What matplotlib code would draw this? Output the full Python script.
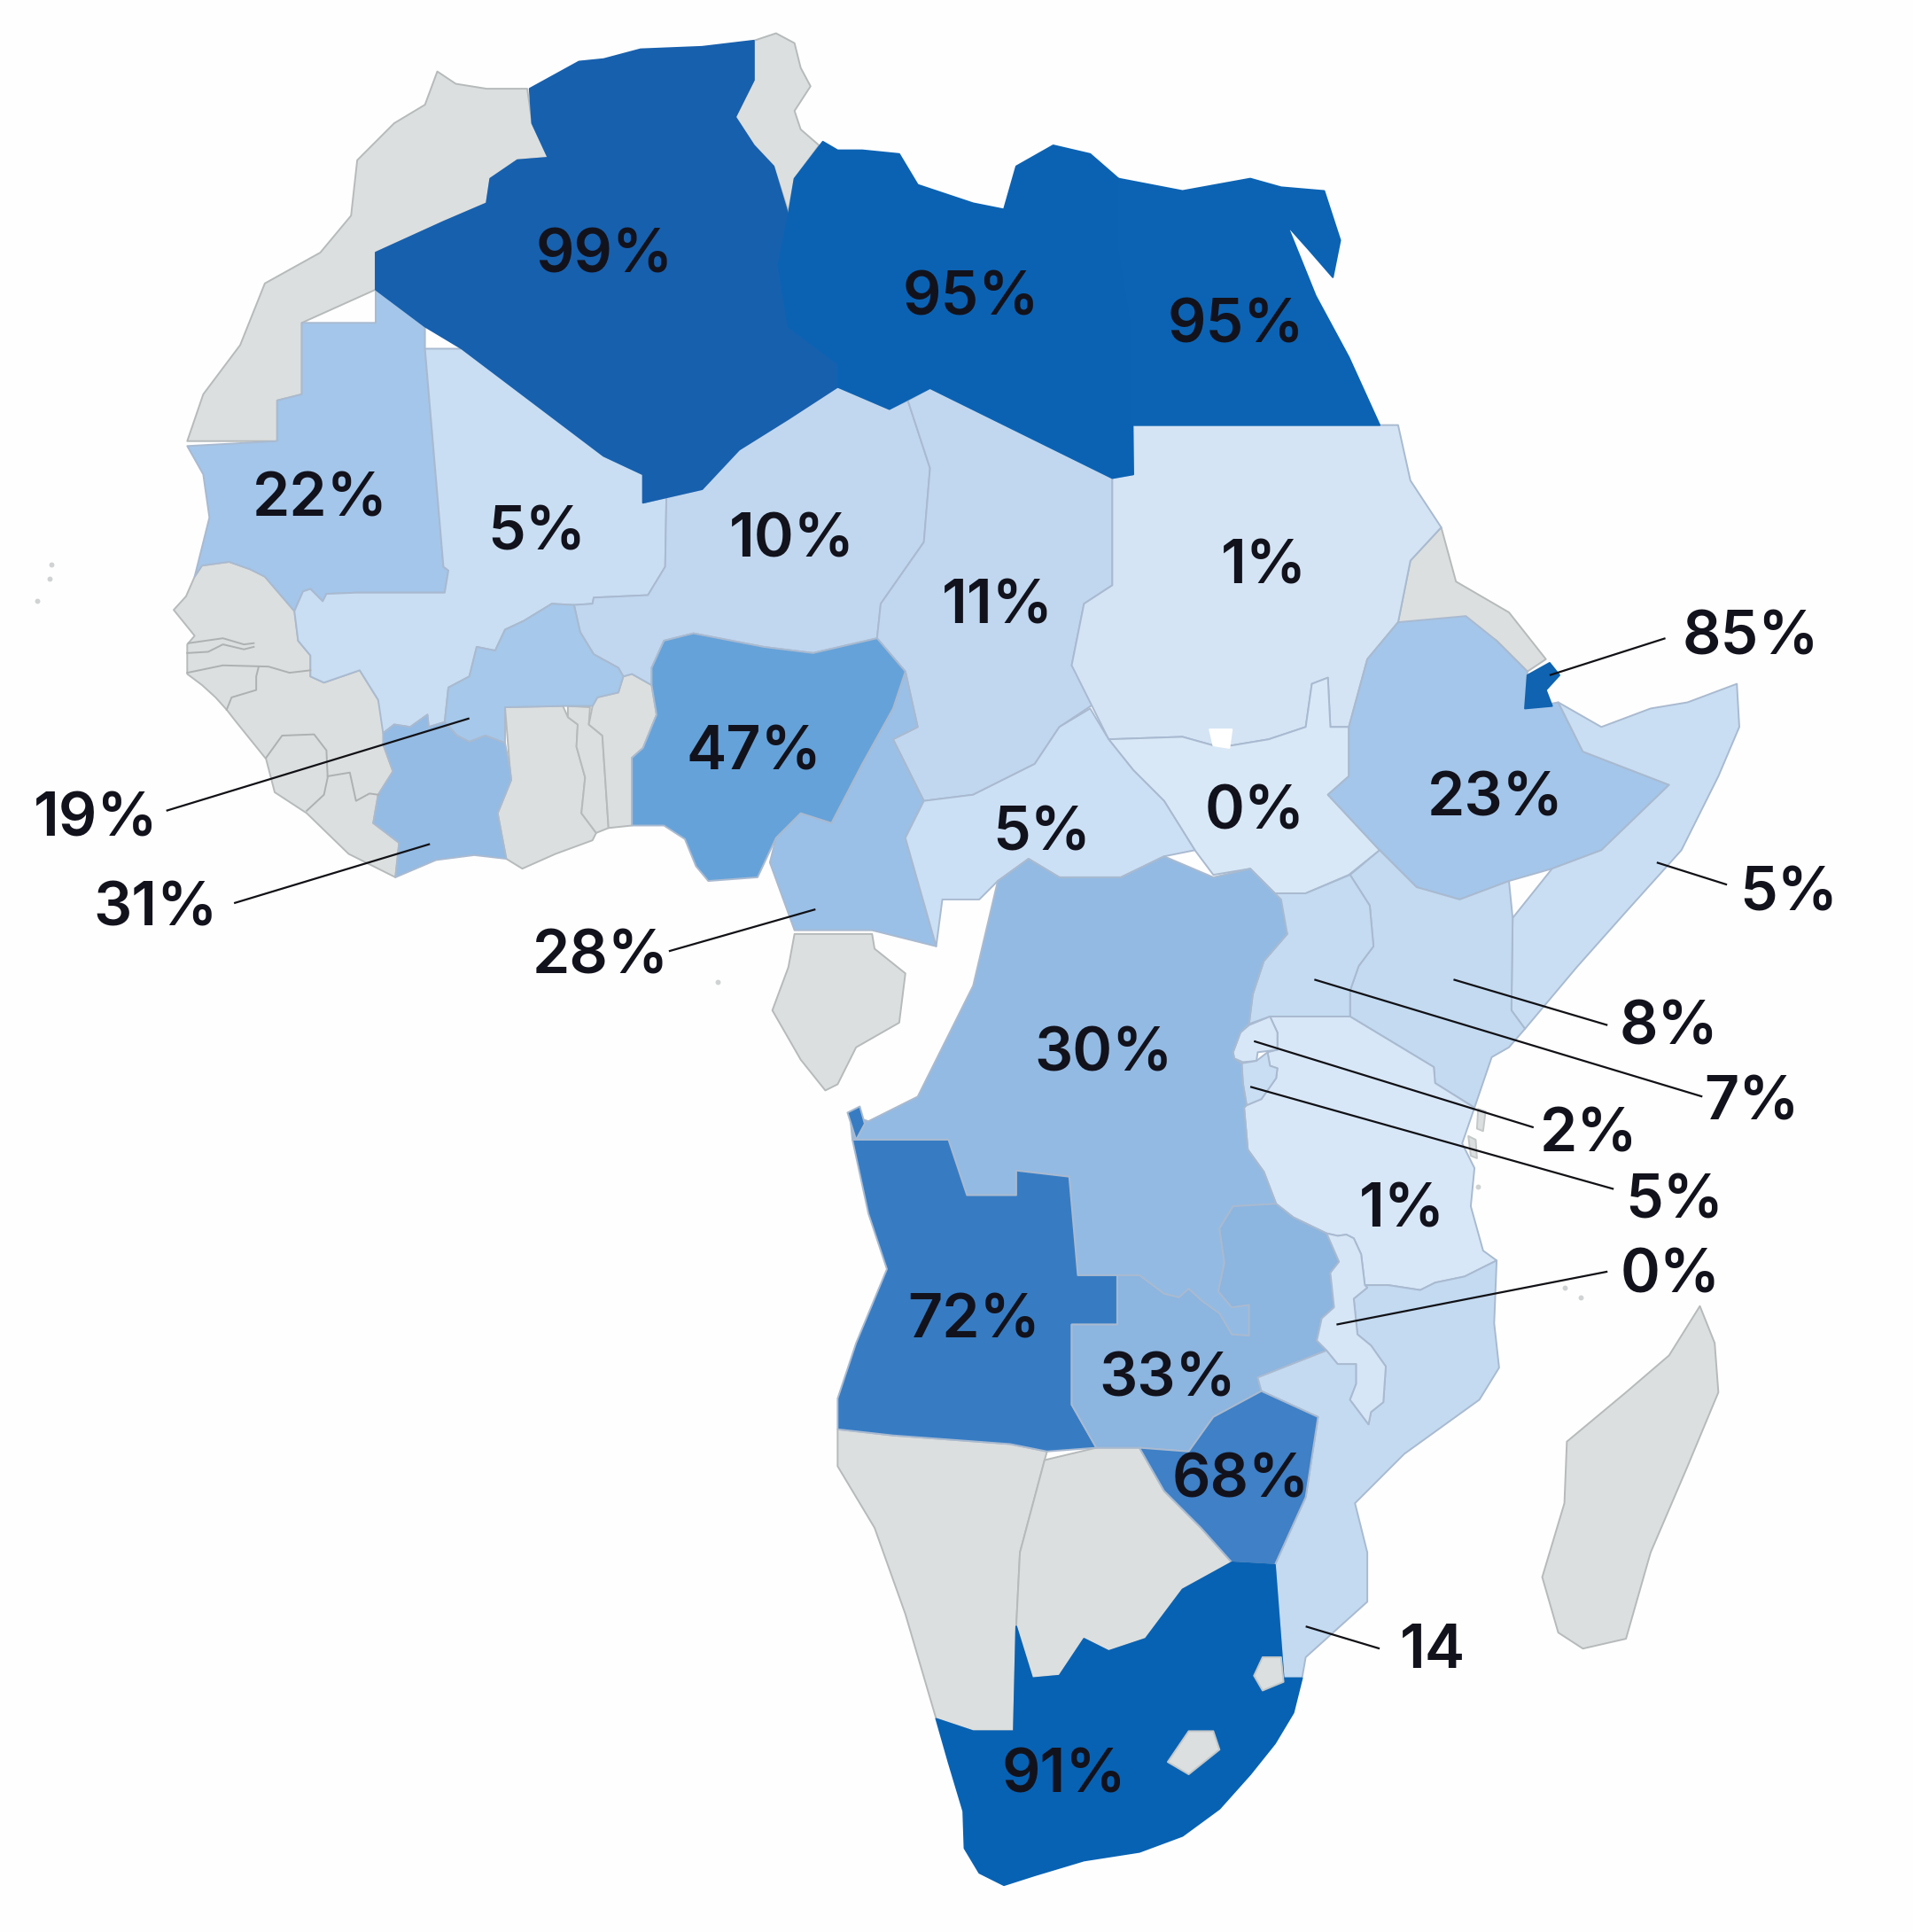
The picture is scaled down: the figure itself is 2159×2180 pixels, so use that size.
import matplotlib.pyplot as plt
from matplotlib.patches import Polygon

# outlines, in pixels of the 1553x1568 view
morocco = [(355,58),(370,68),(395,72),(428,72),(432,100),(445,128),(420,130),(398,145),(395,165),(360,180),(305,205),(305,235),(245,262),(245,320),(225,325),(225,358),(152,358),(165,320),(195,280),(215,230),(260,205),(285,175),(290,130),(320,100),(345,85)]
algeria = [(430,72),(470,50),(490,48),(520,40),(570,38),(612,33),(612,65),(597,95),(612,118),(628,135),(640,175),(632,215),(640,265),(680,295),(680,314),(640,340),(600,365),(570,397),(522,408),(522,385),(490,370),(375,283),(345,265),(305,235),(305,205),(360,180),(395,165),(398,145),(420,130),(445,128),(432,100)]
tunisia = [(612,33),(630,27),(645,35),(650,55),(658,70),(645,90),(650,105),(665,118),(645,145),(640,172),(628,135),(612,118),(597,95),(612,65)]
libya = [(668,115),(680,122),(700,122),(730,125),(745,150),(790,165),(815,170),(825,135),(855,118),(885,125),(908,145),(908,200),(918,260),(920,385),(903,388),(755,315),(722,332),(680,314),(680,295),(640,265),(632,215),(640,175),(645,145)]
egypt = [(908,145),(960,155),(1015,145),(1040,152),(1075,155),(1088,195),(1082,225),(1062,202),(1045,183),(1068,240),(1095,290),(1120,345),(918,345),(918,260),(908,200)]
mauritania = [(245,262),(305,262),(305,235),(345,265),(345,283),(360,460),(364,463),(361,481),(289,481),(265,482),(262,488),(252,478),(246,480),(239,496),(215,468),(203,462),(186,456),(164,459),(158,468),(170,420),(165,385),(152,362),(225,358),(225,325),(245,320)]
mali = [(345,283),(375,283),(490,370),(522,385),(522,408),(541,403),(540,460),(526,483),(482,485),(481,490),(466,491),(448,490),(425,504),(410,511),(402,528),(387,525),(381,549),(364,558),(361,586),(348,590),(347,580),(333,590),(320,588),(311,595),(307,568),(292,544),(263,554),(252,549),(252,532),(242,520),(239,496),(246,480),(252,478),(262,488),(265,482),(289,481),(361,481),(364,463),(360,460)]
niger = [(522,408),(570,397),(600,365),(640,340),(680,314),(722,332),(737,325),(755,380),(750,440),(715,490),(712,518),(660,530),(620,525),(563,514),(539,520),(529,542),(529,556),(513,547),(506,549),(502,542),(482,531),(471,513),(466,491),(481,490),(482,485),(526,483),(540,460),(541,403)]
chad = [(737,325),(755,315),(903,388),(903,475),(880,490),(870,540),(890,570),(860,590),(840,620),(790,645),(750,650),(725,600),(745,590),(735,545),(712,518),(715,490),(750,440),(755,380)]
sudan = [(903,345),(1135,345),(1145,390),(1170,428),(1145,455),(1135,505),(1110,535),(1095,590),(1080,590),(1078,550),(1065,555),(1060,590),(1030,600),(1000,605),(985,605),(960,598),(900,600),(885,570),(870,540),(880,490),(903,475),(903,388),(920,385),(920,345)]
south_sudan = [(900,600),(960,598),(985,605),(1000,605),(1030,600),(1060,590),(1065,555),(1078,550),(1080,590),(1095,590),(1095,630),(1078,645),(1120,690),(1095,710),(1060,725),(1035,725),(1015,705),(985,710),(970,690),(945,650),(920,625)]
abyei = [(982,592),(1000,592),(998,607),(985,605)]
eritrea = [(1145,455),(1170,428),(1182,472),(1225,497),(1255,535),(1240,545),(1215,520),(1190,505),(1135,505)]
ethiopia = [(1135,505),(1190,500),(1215,520),(1240,545),(1238,575),(1265,570),(1285,610),(1355,637),(1300,690),(1260,705),(1225,715),(1185,730),(1150,720),(1120,690),(1078,645),(1095,630),(1095,590),(1110,535)]
djibouti = [(1240,548),(1258,538),(1266,548),(1255,560),(1260,573),(1238,575)]
somalia = [(1265,570),(1300,590),(1340,575),(1370,570),(1410,555),(1412,590),(1395,630),(1365,690),(1320,740),(1280,785),(1238,835),(1227,820),(1228,745),(1260,705),(1300,690),(1355,637),(1285,610)]
kenya = [(1096,710),(1120,690),(1150,720),(1185,730),(1225,715),(1228,745),(1227,820),(1238,835),(1225,850),(1211,858),(1197,899),(1165,879),(1164,866),(1096,825),(1096,804),(1103,784),(1115,768),(1112,735)]
uganda = [(1035,725),(1060,725),(1096,710),(1112,735),(1115,768),(1103,784),(1096,804),(1096,825),(1031,825),(1014,831),(1017,807),(1026,780),(1045,758)]
rwanda = [(1014,832),(1031,825),(1037,838),(1037,852),(1021,854),(1020,861),(1009,862),(1002,859),(1001,854),(1007,838)]
burundi = [(1008,863),(1020,861),(1029,854),(1031,865),(1037,867),(1036,875),(1024,892),(1012,897),(1009,879)]
tanzania = [(1031,825),(1096,825),(1164,866),(1165,879),(1197,899),(1187,928),(1197,948),(1194,979),(1204,1015),(1215,1023),(1189,1036),(1165,1041),(1153,1047),(1127,1043),(1108,1043),(1105,1018),(1099,1005),(1093,1002),(1086,1003),(1077,1001),(1050,988),(1036,977),(1026,951),(1013,933),(1010,899),(1012,897),(1024,892),(1036,875),(1037,867),(1031,865),(1029,854),(1037,852),(1037,838)]
drc = [(835,697),(860,712),(910,712),(945,695),(985,712),(1015,705),(1040,730),(1045,758),(1026,780),(1017,807),(1014,831),(1007,838),(1001,854),(1002,859),(1008,863),(1009,879),(1012,897),(1010,899),(1013,933),(1026,951),(1036,977),(1001,979),(990,997),(994,1025),(989,1048),(1000,1061),(1014,1059),(1014,1084),(1000,1083),(990,1066),(976,1056),(965,1046),(957,1053),(945,1050),(925,1035),(875,1035),(868,955),(825,950),(825,970),(785,970),(770,925),(692,925),(690,905),(705,910),(745,890),(765,850),(790,800),(810,715)]
cabinda = [(688,903),(698,898),(702,912),(695,925)]
angola = [(692,925),(770,925),(785,970),(825,970),(825,950),(868,955),(875,1035),(907,1035),(907,1075),(870,1075),(870,1140),(890,1175),(850,1178),(820,1172),(725,1165),(680,1160),(680,1135),(695,1090),(720,1030),(705,985)]
zambia = [(870,1075),(907,1075),(907,1035),(925,1035),(945,1050),(957,1053),(965,1046),(976,1056),(990,1066),(1000,1083),(1014,1084),(1014,1059),(1000,1061),(989,1048),(994,1025),(990,997),(1001,979),(1036,977),(1050,988),(1077,1001),(1087,1024),(1080,1033),(1083,1061),(1073,1070),(1069,1088),(1077,1096),(1021,1118),(1024,1129),(985,1150),(965,1178),(925,1175),(890,1175),(870,1140)]
malawi = [(1077,1001),(1086,1003),(1093,1002),(1099,1005),(1105,1018),(1108,1043),(1110,1045),(1099,1054),(1102,1083),(1113,1092),(1125,1109),(1123,1138),(1113,1146),(1111,1156),(1096,1136),(1101,1123),(1101,1107),(1086,1107),(1077,1096),(1069,1088),(1073,1070),(1083,1061),(1080,1033),(1087,1024)]
mozambique = [(1108,1043),(1127,1043),(1153,1047),(1165,1041),(1189,1036),(1215,1023),(1213,1074),(1217,1110),(1201,1136),(1140,1180),(1100,1220),(1110,1260),(1110,1300),(1060,1345),(1057,1362),(1042,1362),(1035,1270),(1060,1215),(1070,1150),(1024,1129),(1021,1118),(1077,1096),(1086,1107),(1101,1107),(1101,1123),(1096,1136),(1111,1156),(1113,1146),(1123,1138),(1125,1109),(1113,1092),(1102,1083),(1099,1054),(1110,1045)]
zimbabwe = [(925,1175),(965,1178),(985,1150),(1024,1129),(1070,1150),(1060,1215),(1035,1270),(1000,1268),(975,1240),(945,1210)]
namibia = [(680,1160),(725,1165),(820,1172),(850,1178),(848,1185),(828,1260),(825,1320),(823,1405),(790,1405),(760,1395),(735,1310),(710,1240),(680,1190)]
botswana = [(848,1185),(890,1175),(925,1175),(945,1210),(975,1240),(1000,1268),(960,1290),(930,1330),(900,1340),(880,1330),(860,1360),(838,1362),(825,1320),(828,1260)]
south_africa = [(825,1320),(838,1362),(860,1360),(880,1330),(900,1340),(930,1330),(960,1290),(1000,1268),(1035,1270),(1042,1362),(1057,1362),(1050,1390),(1035,1415),(1015,1440),(990,1468),(960,1490),(925,1503),(880,1510),(840,1522),(815,1530),(795,1520),(783,1500),(782,1470),(770,1430),(760,1395),(790,1405),(823,1405)]
lesotho = [(965,1405),(985,1405),(990,1420),(965,1440),(948,1430)]
eswatini = [(1025,1345),(1040,1345),(1042,1365),(1025,1372),(1018,1360)]
madagascar = [(1380,1060),(1392,1090),(1395,1130),(1370,1190),(1340,1260),(1320,1330),(1285,1338),(1265,1325),(1252,1280),(1270,1220),(1272,1170),(1320,1130),(1355,1100)]
guinea_block = [(158,468),(164,459),(186,456),(203,462),(215,468),(239,496),(242,520),(252,532),(252,549),(263,554),(292,544),(307,568),(314,590),(311,604),(319,626),(307,645),(303,668),(324,684),(321,712),(283,693),(249,660),(223,643),(216,616),(191,585),(184,576),(175,566),(164,556),(152,547),(152,523),(158,516),(141,495),(151,484)]
ghana = [(410,574),(457,573),(461,582),(469,588),(468,606),(475,631),(472,660),(484,676),(481,682),(451,693),(424,705),(411,697),(404,660),(415,633),(414,624)]
togo = [(461,573),(479,574),(478,588),(489,597),(494,672),(484,676),(472,660),(475,631),(468,606),(469,588),(461,582)]
benin = [(481,573),(485,566),(502,562),(506,549),(513,547),(529,556),(533,580),(522,607),(513,615),(513,670),(494,672),(489,597),(478,588)]
burkina = [(466,491),(448,490),(425,504),(410,511),(402,528),(387,525),(381,549),(364,558),(361,586),(371,597),(381,602),(394,597),(410,603),(410,574),(457,573),(481,573),(485,566),(502,562),(506,549),(502,542),(482,531),(471,513)]
ivory_coast = [(311,595),(320,588),(333,590),(347,580),(348,590),(361,586),(371,597),(381,602),(394,597),(410,603),(414,624),(415,633),(404,660),(411,697),(385,694),(354,698),(321,712),(324,684),(303,668),(307,645),(319,626),(311,604)]
nigeria = [(539,520),(563,514),(620,525),(660,530),(712,518),(735,545),(725,575),(700,620),(675,668),(650,660),(630,680),(615,712),(575,715),(565,703),(556,681),(539,670),(513,670),(513,615),(522,607),(533,580),(529,556),(529,542)]
cameroon = [(725,575),(735,545),(745,590),(725,600),(750,650),(735,680),(760,768),(708,755),(645,755),(625,700),(630,680),(650,660),(675,668),(700,620)]
car = [(750,650),(790,645),(840,620),(860,590),(885,575),(900,600),(920,625),(945,650),(970,690),(945,695),(910,712),(860,712),(835,697),(810,715),(795,730),(765,730),(760,768),(735,680)]
gabon_congo = [(645,758),(708,758),(710,770),(735,790),(730,830),(695,850),(680,880),(670,885),(650,860),(627,820),(640,785)]
pemba = [(1200,900),(1206,902),(1204,918),(1199,916)]
zanzibar = [(1192,922),(1198,925),(1199,940),(1194,938)]

# border lines inside the grey west african block
gambia_top = [(153,522),(181,518),(198,523),(206,522)]
gambia_low = [(206,525),(198,527),(181,523),(169,529),(152,530)]
senegal_south = [(152,546),(181,540),(218,541),(235,546),(252,544)]
bissau_east = [(210,541),(208,549),(208,560),(188,566),(184,576)]
sierra_leone = [(216,615),(229,597),(255,596),(265,609),(266,631),(263,645),(249,658)]
liberia_north = [(266,630),(284,627),(289,650),(300,644),(307,645)]

shapes = [morocco, tunisia, eritrea, guinea_block, ghana, togo, benin, gabon_congo, namibia, botswana, madagascar,
          mauritania, mali, niger, chad, sudan, south_sudan, ethiopia, somalia, kenya, uganda, tanzania, rwanda, burundi,
          burkina, ivory_coast, cameroon, car, nigeria, drc, angola, cabinda, zambia, mozambique, malawi, zimbabwe,
          algeria, libya, egypt, djibouti, south_africa, lesotho, eswatini, pemba, zanzibar, abyei]
fills = ['#dcdfdf', '#dcdfdf', '#dcdfdf', '#dcdfdf', '#dcdfdf', '#dcdfdf', '#dcdfdf', '#dcdfdf', '#dcdfdf', '#dcdfdf', '#dcdfdf',
         '#a4c6ea', '#c9def3', '#c1d7ef', '#c1d7ef', '#d4e4f5', '#d9e8f7', '#a4c6ea', '#c9def3', '#c3daf0', '#c4dbf1', '#d8e7f7', '#d8e7f7', '#c9def3',
         '#a6c8ea', '#93bbe4', '#9bc0e7', '#cce0f5', '#65a2d9', '#93bae3', '#377cc3', '#377cc3', '#8cb5e0', '#c3daf1', '#d6e6f6', '#3f80c6',
         '#1760ae', '#0b62b3', '#0c63b3', '#0f63b0', '#0862b3', '#dcdfdf', '#dcdfdf', '#dcdfdf', '#dcdfdf', '#ffffff']
edges = ['#b6baba'] * 11 + ['#a9bad0'] * 25 + ['none'] * 5 + ['#c4c8c8'] * 4 + ['none']

label_text = ['99%', '95%', '95%', '22%', '5%', '10%', '11%', '1%', '85%', '47%', '23%', '19%', '5%', '0%', '31%',
              '5%', '28%', '30%', '8%', '7%', '2%', '5%', '1%', '0%', '72%', '33%', '68%', '14', '91%']
label_x = [491, 788, 1003, 260, 436, 643, 810, 1026, 1421, 612, 1214, 78, 846, 1019, 126,
           1452, 488, 896, 1355, 1422, 1290, 1359, 1138, 1356, 791, 948, 1007, 1163, 864]
label_y = [208, 243, 265, 406, 433, 439, 493, 461, 518, 612, 649, 666, 677, 660, 738,
           726, 777, 856, 835, 896, 922, 976, 983, 1036, 1073, 1120, 1202, 1341, 1442]

leader_x0 = [1258, 135, 190, 543, 1345, 1180, 1067, 1018, 1015, 1085, 1060]
leader_y0 = [548, 658, 733, 772, 700, 795, 795, 845, 882, 1075, 1320]
leader_x1 = [1352, 381, 349, 662, 1402, 1305, 1382, 1245, 1310, 1305, 1120]
leader_y1 = [518, 583, 685, 738, 718, 832, 890, 915, 965, 1032, 1338]

speck_x = [30, 42, 40, 583, 1270, 1283, 1200]
speck_y = [488, 458, 470, 797, 1045, 1053, 963]

fig = plt.figure(figsize=(21.59, 21.80), dpi=100, facecolor='#fefefe')
ax = fig.add_axes([0, 0, 1, 1])
ax.set_xlim(0, 1553)
ax.set_ylim(1568, 0)
ax.axis('off')

for pts, fc, ec in zip(shapes, fills, edges):
    ax.add_patch(Polygon(pts, closed=True, facecolor=fc, edgecolor=ec if ec != 'none' else fc, linewidth=1.4, joinstyle='round'))

for line in [gambia_top, gambia_low, senegal_south, bissau_east, sierra_leone, liberia_north]:
    ax.plot([p[0] for p in line], [p[1] for p in line], color='#adb1b1', lw=1.4)

ax.scatter(speck_x, speck_y, s=18, color='#d0d3d3', linewidths=0)

for x0, y0, x1, y1 in zip(leader_x0, leader_y0, leader_x1, leader_y1):
    ax.plot([x0, x1], [y0, y1], color='#111116', lw=1.6, solid_capstyle='butt')

for txt, x, y in zip(label_text, label_x, label_y):
    ax.text(x, y, txt, family='Inter', weight='semibold', fontsize=49, color='#12121c', ha='center', va='center')

fig.savefig('out.png', dpi=100, facecolor=fig.get_facecolor())
